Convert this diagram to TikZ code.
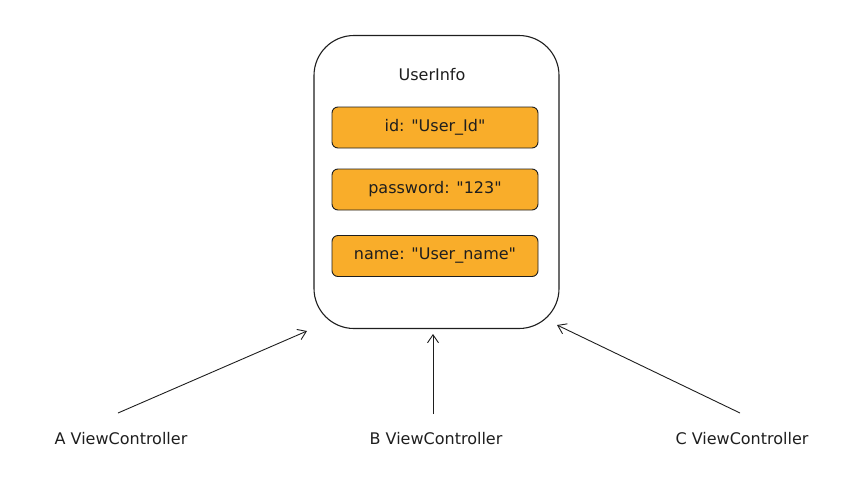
\documentclass[tikz,border=0pt]{standalone}
\usepackage{fontspec}
\setmainfont{DejaVu Sans}[Ligatures=TeXOff]
\usetikzlibrary{arrows.meta}
\definecolor{fieldfill}{HTML}{F9AD2A}
\definecolor{ink}{HTML}{1E1E1E}
\newcommand{\dq}{\char"22\relax}
\tikzset{
  container/.style={draw=ink, line width=1.1pt, rounded corners=40pt, fill=white},
  field/.style={draw=ink, line width=0.9pt, rounded corners=6pt, fill=fieldfill,
    minimum width=206pt, minimum height=41pt, inner sep=0pt, font=\fontsize{16}{18}\selectfont, text=ink},
  lbl/.style={font=\fontsize{16}{18}\selectfont, text=ink, inner sep=0pt},
  link/.style={draw=ink, line width=0.9pt, -{Straight Barb[length=8pt,width=11pt,line width=0.9pt]}}
}
\begin{document}
\begin{tikzpicture}[x=1pt,y=-1pt]
\useasboundingbox (0,0) rectangle (865,485);
\node[container, minimum width=245pt, minimum height=293pt, inner sep=0pt] (box) at (436.5,182) {};
\node[lbl] (title) at (432,75) {UserInfo};
\node[field] (f1) at (435,127.5) {id: \dq User\_Id\dq};
\node[field] (f2) at (435,189.5) {password: \dq 123\dq};
\node[field] (f3) at (435,256) {name: \dq User\_name\dq};
\node[lbl] (a) at (121,439) {A ViewController};
\node[lbl] (b) at (436,439) {B ViewController};
\node[lbl] (c) at (742,439) {C ViewController};
\coordinate (as) at (118,413);
\coordinate (ae) at (307,331);
\coordinate (bs) at (433,414);
\coordinate (be) at (433,334);
\coordinate (cs) at (740,413);
\coordinate (ce) at (557,325);
\draw[link] (as) -- (ae);
\draw[link] (bs) -- (be);
\draw[link] (cs) -- (ce);
\end{tikzpicture}
\end{document}
